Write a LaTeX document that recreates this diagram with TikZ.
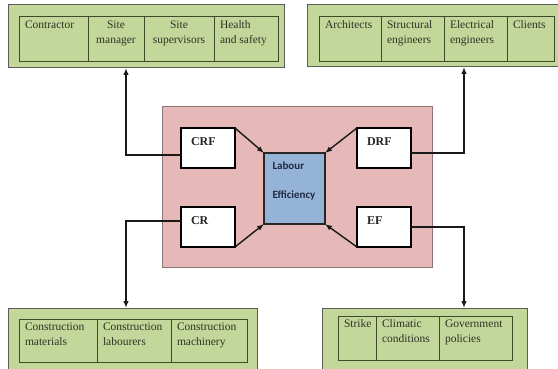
\documentclass[tikz,border=0pt]{standalone}
\usepackage{fontspec}
\setmainfont{Liberation Serif}
\newfontfamily\calib{Carlito}
\usetikzlibrary{arrows.meta}
\definecolor{greenfill}{HTML}{C4D79B}
\definecolor{gborder}{HTML}{5A5F55}
\definecolor{cellborder}{HTML}{3F4A2A}
\definecolor{celltext}{HTML}{2E3325}
\definecolor{pinkfill}{HTML}{E6B9B8}
\definecolor{pinkborder}{HTML}{8C7574}
\definecolor{bluefill}{HTML}{95B3D7}
\definecolor{navy}{HTML}{1F2A44}
\newcommand\cellL[3]{\parbox[c][#2pt][t]{#1pt}{\vspace*{1pt}\leftskip=6pt\rightskip=0pt plus 1fil\strut #3\strut}}
\newcommand\cellC[3]{\parbox[c][#2pt][t]{#1pt}{\vspace*{1pt}\centering\strut #3\strut}}
\newcommand\fbl[1]{\parbox[c][40pt][t]{54pt}{\vspace*{10pt}\hspace*{10pt}\textbf{#1}}}
\tikzset{
  outerg/.style={draw=gborder, fill=greenfill, line width=1pt, inner sep=0pt, outer sep=0pt, anchor=north west},
  cell/.style={draw=cellborder, line width=1pt, inner sep=0pt, outer sep=0pt, anchor=north west, text=celltext, font=\fontsize{11.5}{15}\selectfont},
  fbox/.style={draw=black, fill=white, line width=1.3pt, inner sep=0pt, outer sep=0pt, anchor=north west, font=\fontsize{12}{14}\selectfont, text=black!85},
  arr/.style={line width=1.4pt, black!90, -{Latex[length=7pt,width=5.5pt]}},
}
\begin{document}
\begin{tikzpicture}[x=1pt,y=-1pt]
\useasboundingbox (0,0) rectangle (558,369);
\clip (0,0) rectangle (558,369);
\fill[white] (0,0) rectangle (558,369);
% central pink panel
\node[draw=pinkborder, fill=pinkfill, line width=1pt, inner sep=0pt, outer sep=0pt, anchor=north west, minimum width=270pt, minimum height=160pt] (pink) at (162,107) {};
% outer green boxes
\node[outerg, minimum width=276pt, minimum height=63pt] (tl) at (8,5) {};
\node[outerg, minimum width=260pt, minimum height=62pt] (tr) at (307,5) {};
\node[outerg, minimum width=249pt, minimum height=80pt] (bl) at (8,308) {};
\node[outerg, minimum width=205pt, minimum height=80pt] (br) at (322,308) {};
% top-left table
\node[cell] (c11) at (19,17) {\cellL{69}{45}{Contractor}};
\node[cell] (c12) at (88,17) {\cellC{56}{45}{Site\\manager}};
\node[cell] (c13) at (144,17) {\cellC{70}{45}{Site\\supervisors}};
\node[cell] (c14) at (214,17) {\cellL{64}{45}{Health\\and safety}};
% top-right table
\node[cell] (c21) at (319,17) {\cellL{62}{45}{Architects}};
\node[cell] (c22) at (381,17) {\cellL{63}{45}{Structural\\engineers}};
\node[cell] (c23) at (444,17) {\cellL{63}{45}{Electrical\\engineers}};
\node[cell] (c24) at (507,17) {\cellL{47}{45}{Clients}};
% bottom-left table
\node[cell] (c31) at (19,319) {\cellL{78}{43}{Construction\\materials}};
\node[cell] (c32) at (97,319) {\cellL{74}{43}{Construction\\labourers}};
\node[cell] (c33) at (171,319) {\cellL{76}{43}{Construction\\machinery}};
% bottom-right table
\node[cell] (c41) at (338,316) {\cellL{38}{44}{Strike}};
\node[cell] (c42) at (376,316) {\cellL{63}{44}{Climatic\\conditions}};
\node[cell] (c43) at (439,316) {\cellL{73}{44}{Government\\policies}};
% inner boxes
\node[fbox] (crf) at (181,128) {\fbl{CRF}};
\node[fbox] (cr) at (181,207) {\fbl{CR}};
\node[fbox] (drf) at (357,128) {\fbl{DRF}};
\node[fbox] (ef) at (357,207) {\fbl{EF}};
\node[draw=black!85, fill=bluefill, line width=1.3pt, inner sep=0pt, outer sep=0pt, anchor=north west, text=navy, font=\calib\bfseries\fontsize{11}{29}\selectfont] (lab) at (264,153)
  {\parbox[c][71pt][t]{61pt}{\vspace*{8.5pt}\leftskip=8.5pt Labour\\Efficiency}};
% arrows into Labour Efficiency
\draw[arr] (crf.north east) -- (lab.north west);
\draw[arr] (cr.south east) -- (lab.south west);
\draw[arr] (drf.north west) -- (lab.north east);
\draw[arr] (ef.south west) -- (lab.south east);
% connectors to the green boxes
\coordinate (xl) at (126,0);
\coordinate (xr) at (464,0);
\draw[arr] ([yshift=-7pt]crf.west) -| (xl |- tl.south);
\draw[arr] ([yshift=6pt]cr.west) -| (xl |- bl.north);
\draw[arr] ([yshift=-5pt]drf.east) -| (xr |- tr.south);
\draw[arr] (ef.east) -| (xr |- br.north);
\end{tikzpicture}
\end{document}
